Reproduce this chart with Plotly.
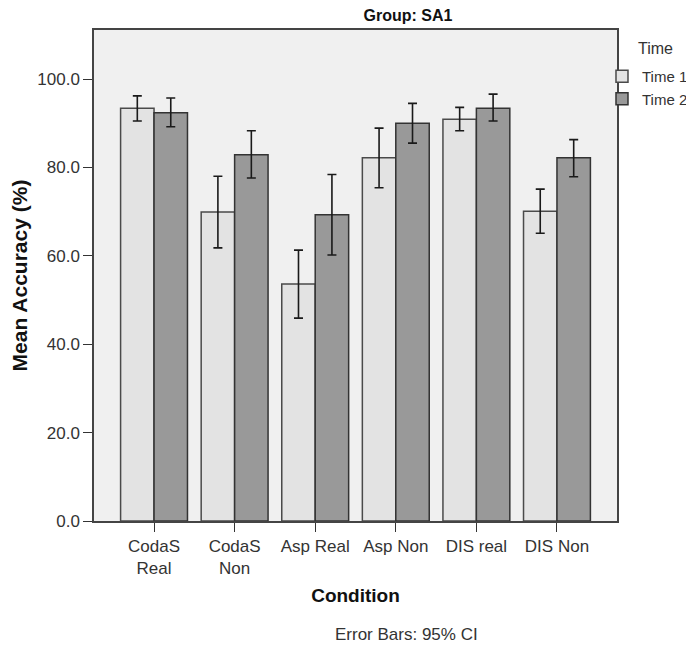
import plotly.graph_objects as go

categories = ["CodaS<br>Real", "CodaS<br>Non", "Asp Real", "Asp Non", "DIS real", "DIS Non"]
time1_mean = [93.4, 69.9, 53.6, 82.2, 90.9, 70.1]
time1_upper = [96.2, 78.0, 61.3, 88.9, 93.6, 75.1]
time1_lower = [90.5, 61.8, 45.9, 75.4, 88.3, 65.1]
time2_mean = [92.4, 82.9, 69.3, 90.0, 93.4, 82.2]
time2_upper = [95.7, 88.3, 78.4, 94.5, 96.6, 86.3]
time2_lower = [89.2, 77.6, 60.2, 85.5, 90.5, 77.9]
y_ticks = [0, 20, 40, 60, 80, 100]

FONT = "Liberation Sans, Arial, sans-serif"


def err(mean, upper, lower):
    return dict(
        type="data",
        symmetric=False,
        array=[u - m for u, m in zip(upper, mean)],
        arrayminus=[m - l for m, l in zip(mean, lower)],
        color="#1a1a1a",
        thickness=1.6,
        width=4.5,
    )


fig = go.Figure()
fig.add_trace(go.Bar(
    name="Time 1", x=categories, y=time1_mean,
    marker=dict(color="#e3e3e3", line=dict(color="#4a4a4a", width=1.5)),
    error_y=err(time1_mean, time1_upper, time1_lower),
))
fig.add_trace(go.Bar(
    name="Time 2", x=categories, y=time2_mean,
    marker=dict(color="#999999", line=dict(color="#333333", width=1.5)),
    error_y=err(time2_mean, time2_upper, time2_lower),
))

# page body has an 8px margin, so the figure is sized to fit the window
fig.update_layout(
    width=686, height=639,
    margin=dict(l=86, r=77, t=22, b=126, autoexpand=False),
    paper_bgcolor="white",
    plot_bgcolor="#f0f0f0",
    barmode="group",
    bargap=0.17,
    bargroupgap=0,
    font=dict(family=FONT, size=17, color="#333333"),
    title=dict(text="<b>Group: SA1</b>", x=0.583, xanchor="center", y=0.989, yanchor="middle",
               font=dict(size=16, color="#111111")),
    legend=dict(
        x=0.9713, xanchor="left", y=0.939, yanchor="top",
        font=dict(size=15, color="#333333"),
        bgcolor="rgba(0,0,0,0)", tracegroupgap=0, itemwidth=30,
    ),
    xaxis=dict(
        range=[-0.745, 5.745],
        showline=True, mirror=True, linecolor="#444444", linewidth=1.5,
        ticks="outside", ticklen=9, tickcolor="#333333", tickwidth=1,
        showgrid=False,
        tickfont=dict(size=17, color="#333333"),
        title=dict(text="<b>Condition</b>", font=dict(size=19, color="#111111"), standoff=11),
    ),
    yaxis=dict(
        range=[0, 111.1],
        tickvals=y_ticks, tickformat=".1f",
        showline=True, mirror=True, linecolor="#444444", linewidth=1.5,
        ticks="outside", ticklen=9, tickcolor="#333333", tickwidth=1,
        showgrid=False, zeroline=False,
        tickfont=dict(size=17, color="#333333"),
        title=dict(text="<b>Mean Accuracy (%)</b>", font=dict(size=21, color="#111111"), standoff=8),
    ),
    annotations=[
        dict(text="Error Bars: 95% CI", xref="paper", yref="paper",
             x=0.598, y=-0.232, xanchor="center", yanchor="middle", showarrow=False,
             font=dict(size=17, color="#333333")),
        dict(text="Time", xref="paper", yref="paper",
             x=1.037, y=0.963, xanchor="left", yanchor="middle", showarrow=False,
             font=dict(size=16, color="#333333")),
    ],
)

fig.write_html("out.html")
